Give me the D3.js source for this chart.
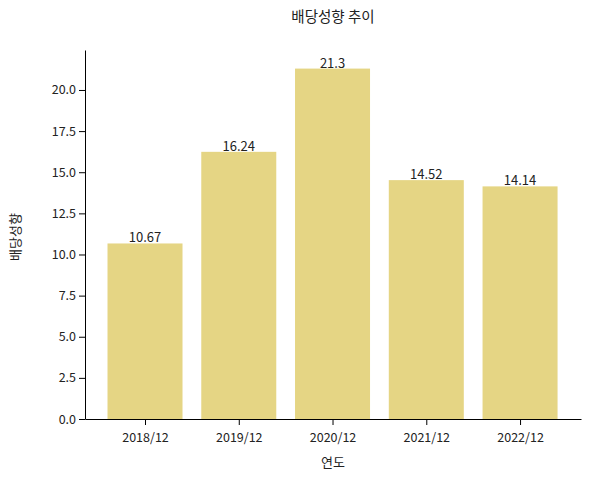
<!DOCTYPE html>
<html><head><meta charset="utf-8">
<script src="https://cdn.jsdelivr.net/npm/d3@7"></script>
<style>body{margin:0;background:#fff}text{font-family:"Noto Sans CJK KR","Noto Sans",sans-serif;fill:#222}</style>
</head><body><svg id="c" width="591" height="479"></svg>
<script>
const years = ['2018/12','2019/12','2020/12','2021/12','2022/12'];
const payout = [10.67, 16.24, 21.3, 14.52, 14.14];
const yTicks = [0,2.5,5,7.5,10,12.5,15,17.5,20];

const svg = d3.select('#c');
const m = {left:85, right:581, top:50, bottom:419};
const x = d3.scaleLinear().domain([-0.64, 4.65]).range([m.left, m.right]);
const y = d3.scaleLinear().domain([0, 22.43]).range([m.bottom, m.top]);
const bw = x(0.4) - x(0);

svg.selectAll('rect').data(payout).join('rect')
  .attr('x', (d,i) => x(i) - bw).attr('width', bw*2)
  .attr('y', d => y(d)).attr('height', d => y(0) - y(d))
  .attr('fill', '#e5d584');

svg.selectAll('.lbl').data(payout).join('text').attr('class','lbl')
  .attr('x', (d,i) => x(i)).attr('y', d => y(d) - 1)
  .attr('text-anchor','middle').attr('font-size',13).text(d => d);

const ya = svg.append('g').attr('transform', `translate(${m.left},0)`)
  .call(d3.axisLeft(y).tickValues(yTicks).tickFormat(d3.format('.1f')).tickSizeOuter(0));
const xa = svg.append('g').attr('transform', `translate(0,${m.bottom})`)
  .call(d3.axisBottom(x).tickValues(d3.range(years.length)).tickFormat(i => years[i]).tickSizeOuter(0));
[ya, xa].forEach(g => { g.selectAll('text').attr('font-size',12.5).style('fill','#222'); g.selectAll('line,path').attr('stroke','#000'); });
xa.selectAll('text').attr('dy','1.1em');

svg.append('text').attr('x',333).attr('y',22).attr('text-anchor','middle').attr('font-size',14.5).text('배당성향 추이');
svg.append('text').attr('x',333).attr('y',467).attr('text-anchor','middle').attr('font-size',13).text('연도');
svg.append('text').attr('transform','translate(20,237) rotate(-90)').attr('text-anchor','middle').attr('font-size',13).text('배당성향');
</script></body></html>
